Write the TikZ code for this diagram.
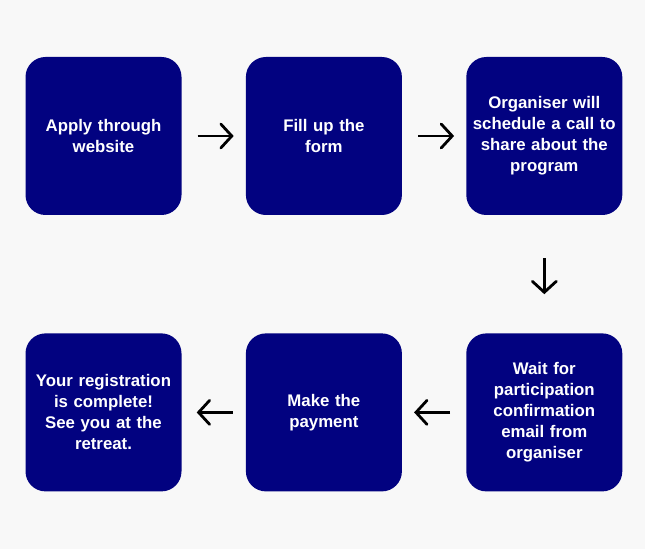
\documentclass[tikz,border=0pt]{standalone}
\usepackage{fontspec}
\setmainfont{Liberation Sans}
\usepackage{xcolor}
\definecolor{stepnavy}{RGB}{2, 2, 128}
\definecolor{pagegrey}{RGB}{248, 248, 248}
\usepackage{tikz}
\usetikzlibrary{positioning, arrows.meta}
\tikzset{
    stepbox/.style={
        fill=stepnavy,
        rounded corners=20pt,
        minimum width=156pt,
        minimum height=158pt,
        text width=154pt,
        inner sep=1pt,
        align=center,
        text=white,
        font=\bfseries\fontsize{16.8}{21}\selectfont
    },
    arrow/.style={
        -{Straight Barb[length=11pt,width=24pt,line cap=round]},
        line width=2.8pt,
        black
    }
}
\begin{document}
\begin{tikzpicture}[node distance=64pt]

% ---------------------------------------------------------
% Background
% ---------------------------------------------------------
\fill[pagegrey] (0,0) rectangle (645pt,549pt);
\useasboundingbox (0,0) rectangle (645pt,549pt);

% ---------------------------------------------------------
% Nodes
% ---------------------------------------------------------

% Top row
\node[stepbox] (apply) at (103.5pt,413pt) {Apply through\\website};
\node[stepbox, right=of apply] (form) {Fill up the\\form};
\node[stepbox, right=of form] (call) {Organiser will\\schedule a call to\\share about the\\program};

% Bottom row
\node[stepbox, below=118pt of call] (wait) {Wait for\\participation\\confirmation\\email from\\organiser};
\node[stepbox, left=of wait] (payment) {Make the\\payment};
\node[stepbox, left=of payment] (done) {Your registration\\is complete!\\See you at the\\retreat.};

% ---------------------------------------------------------
% Arrows
% ---------------------------------------------------------
\draw[arrow, shorten <=16pt, shorten >=12pt] (apply) -- (form);
\draw[arrow, shorten <=16pt, shorten >=12pt] (form) -- (call);
\draw[arrow, shorten <=43pt, shorten >=39pt] (call) -- (wait);
\draw[arrow, shorten <=16pt, shorten >=12pt] (wait) -- (payment);
\draw[arrow, shorten <=13pt, shorten >=15pt] (payment) -- (done);

\end{tikzpicture}
\end{document}
